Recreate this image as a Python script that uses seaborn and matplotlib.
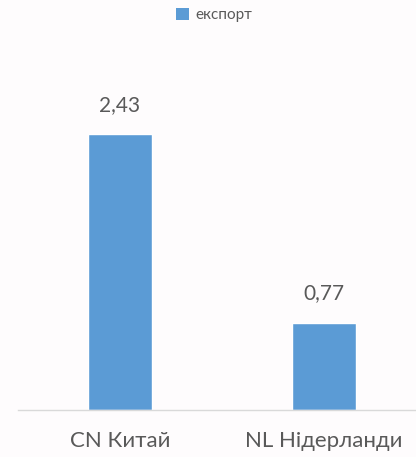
import matplotlib
matplotlib.use("Agg")
import matplotlib.pyplot as plt
import seaborn as sns
import pandas as pd
from matplotlib.patches import Patch

categories = ["CN Китай", "NL Нідерланди"]
values = [2.43, 0.77]
value_labels = ["2,43", "0,77"]
series_name = "експорт"

sns.set_style("white")
plt.rcParams["font.family"] = ["Lato", "DejaVu Sans"]

bar_color = "#5B9BD5"
text_color = "#595959"
bg = "#FEFCFD"

df = pd.DataFrame({"country": categories, "value": values})

fig = plt.figure(figsize=(4.16, 4.57), dpi=100, facecolor=bg)
ax = fig.add_axes([18 / 416, 47 / 457, 1 - 18 / 416, 340.5 / 457])
ax.set_facecolor(bg)

sns.barplot(data=df, x="country", y="value", color=bar_color, width=0.314,
            saturation=1, ax=ax)

ax.set_xlim(-0.5, 1.45)
ax.set_ylim(0, 3)

for i, (v, lab) in enumerate(zip(values, value_labels)):
    ax.annotate(lab, (i, v), xytext=(0, 14), textcoords="offset points",
                ha="center", va="bottom", fontsize=15, color=text_color)

for s in ["top", "right", "left"]:
    ax.spines[s].set_visible(False)
ax.spines["bottom"].set_color("#D9D9D9")
ax.spines["bottom"].set_linewidth(1.0)
ax.set_yticks([])
ax.set_xlabel("")
ax.set_ylabel("")
ax.tick_params(axis="x", length=0, pad=15, labelsize=16, labelcolor=text_color)

fig.legend(handles=[Patch(facecolor=bar_color, edgecolor="none", label=series_name)],
           loc="center", bbox_to_anchor=(0.515, 1 - 15 / 457), frameon=False,
           fontsize=11, labelcolor=text_color, handlelength=0.85, handleheight=0.85,
           handletextpad=0.4)

fig.savefig("out.png", dpi=100, facecolor=bg)
